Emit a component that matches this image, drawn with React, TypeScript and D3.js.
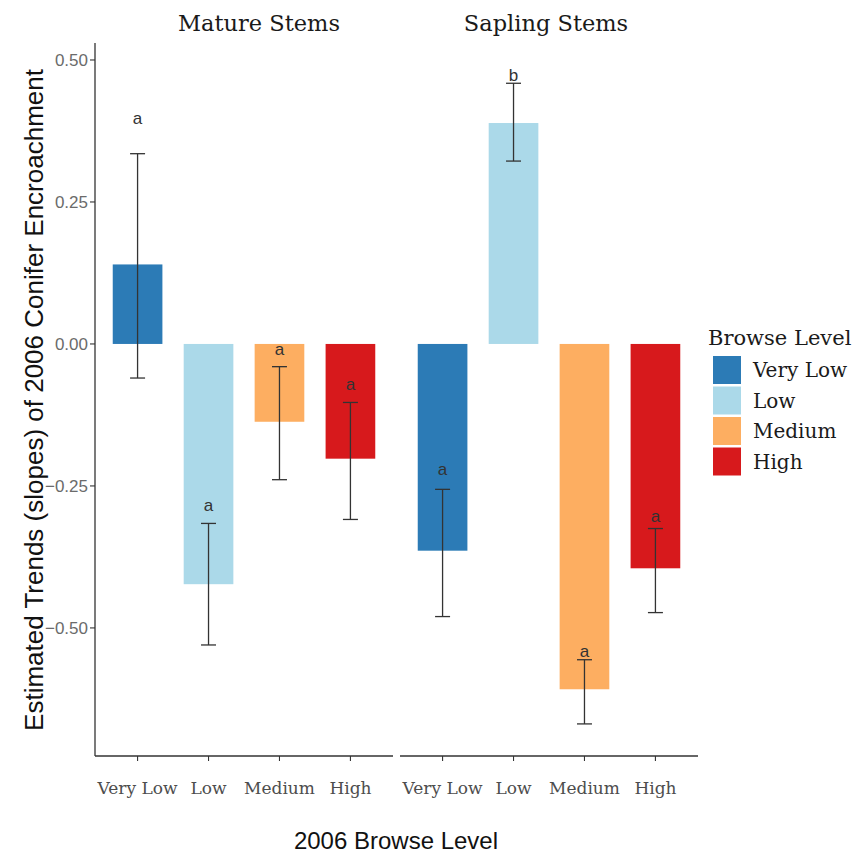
import React from "react";
import * as d3 from "d3";

// browse levels shared by both facets
const levels = ["Very Low", "Low", "Medium", "High"];
const levelColors = ["#2c7bb6", "#abd9e9", "#fdae61", "#d7191c"];
const facets = ["Mature Stems", "Sapling Stems"];

// estimated slopes, per facet, in level order
const matureSlope = [0.14, -0.423, -0.137, -0.202];
const matureLower = [-0.06, -0.53, -0.239, -0.309];
const matureUpper = [0.335, -0.316, -0.04, -0.103];
const matureLetterAt = [0.398, -0.283, -0.009, -0.07];
const matureLetters = ["a", "a", "a", "a"];

const saplingSlope = [-0.364, 0.389, -0.608, -0.395];
const saplingLower = [-0.48, 0.322, -0.669, -0.473];
const saplingUpper = [-0.256, 0.459, -0.556, -0.325];
const saplingLetterAt = [-0.221, 0.473, -0.54, -0.303];
const saplingLetters = ["a", "b", "a", "a"];

const yTicks = [0.5, 0.25, 0, -0.25, -0.5];

const W = 860;
const H = 857;
const plotTop = 43;
const plotBottom = 756;
const panelX = [95, 400];
const panelW = 298;
const stripX = [259, 546];

const serif = "'DejaVu Serif', serif";
const sans = "'Liberation Sans', Arial, sans-serif";

export default function App() {
  const y = d3.scaleLinear().domain([-0.7255, 0.5299]).range([plotBottom, plotTop]);
  const x = d3.scaleBand().domain(levels).range([0, panelW]).paddingInner(0).paddingOuter(0.1);
  const barW = x.bandwidth() * 0.7;
  const capW = 15;

  const panels = [
    { slope: matureSlope, lo: matureLower, hi: matureUpper, at: matureLetterAt, txt: matureLetters },
    { slope: saplingSlope, lo: saplingLower, hi: saplingUpper, at: saplingLetterAt, txt: saplingLetters },
  ];

  return (
    <svg width={W} height={H} style={{ display: "block", position: "absolute", left: 0, top: 0 }}>
      <rect width={W} height={H} fill="#fff" />

      {panels.map((p, pi) => {
        const ox = panelX[pi];
        return (
          <g key={pi} transform={`translate(${ox},0)`}>
            {levels.map((lv, i) => {
              const cx = x(lv)! + x.bandwidth() / 2;
              const v = p.slope[i];
              return (
                <g key={lv}>
                  <rect
                    x={cx - barW / 2}
                    y={Math.min(y(v), y(0))}
                    width={barW}
                    height={Math.abs(y(v) - y(0))}
                    fill={levelColors[i]}
                  />
                  <line x1={cx} x2={cx} y1={y(p.lo[i])} y2={y(p.hi[i])} stroke="#333" strokeWidth={1.3} />
                  <line x1={cx - capW / 2} x2={cx + capW / 2} y1={y(p.lo[i])} y2={y(p.lo[i])} stroke="#333" strokeWidth={1.3} />
                  <line x1={cx - capW / 2} x2={cx + capW / 2} y1={y(p.hi[i])} y2={y(p.hi[i])} stroke="#333" strokeWidth={1.3} />
                  <text x={cx} y={y(p.at[i])} dy="0.35em" textAnchor="middle" fontFamily={sans} fontSize={17} fill="#333">
                    {p.txt[i]}
                  </text>
                  <line x1={cx} x2={cx} y1={plotBottom} y2={plotBottom + 5} stroke="#333" strokeWidth={1.1} />
                  <text x={cx} y={plotBottom + 38} textAnchor="middle" fontFamily={serif} fontSize={17} fill="#4d4d4d">
                    {lv}
                  </text>
                </g>
              );
            })}
            <line x1={0} x2={panelW} y1={plotBottom} y2={plotBottom} stroke="#333" strokeWidth={1.3} />
            <text x={stripX[pi] - ox} y={31} textAnchor="middle" fontFamily={serif} fontSize={22.5} fill="#1a1a1a">
              {facets[pi]}
            </text>
          </g>
        );
      })}

      {/* y axis */}
      <line x1={panelX[0]} x2={panelX[0]} y1={plotTop} y2={plotBottom} stroke="#333" strokeWidth={1.3} />
      {yTicks.map((t) => (
        <g key={t}>
          <line x1={panelX[0] - 5} x2={panelX[0]} y1={y(t)} y2={y(t)} stroke="#333" strokeWidth={1.1} />
          <text x={panelX[0] - 7} y={y(t)} dy="0.35em" textAnchor="end" fontFamily={sans} fontSize={17} fill="#6b6b6b">
            {d3.format(".2f")(t)}
          </text>
        </g>
      ))}

      <text
        transform={`translate(43,400) rotate(-90)`}
        textAnchor="middle"
        fontFamily={sans}
        fontSize={26}
        fill="#111"
      >
        Estimated Trends (slopes) of 2006 Conifer Encroachment
      </text>
      <text x={396} y={849} textAnchor="middle" fontFamily={sans} fontSize={24} fill="#111">
        2006 Browse Level
      </text>

      {/* legend */}
      <text x={708} y={345} fontFamily={serif} fontSize={21} fill="#1a1a1a">
        Browse Level
      </text>
      {levels.map((lv, i) => (
        <g key={lv} transform={`translate(713,${356 + i * 30.5})`}>
          <rect width={28} height={28} fill={levelColors[i]} />
          <text x={40} y={14} dy="0.35em" fontFamily={serif} fontSize={20} fill="#1a1a1a">
            {lv}
          </text>
        </g>
      ))}
    </svg>
  );
}
